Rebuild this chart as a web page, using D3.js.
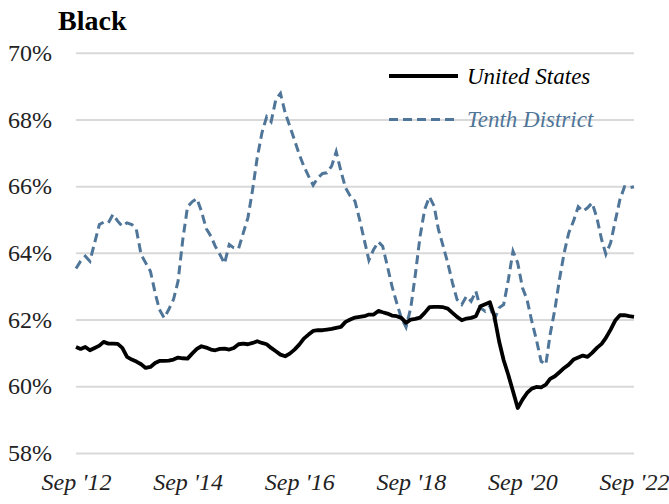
<!DOCTYPE html>
<html>
<head>
<meta charset="utf-8">
<script src="https://cdn.jsdelivr.net/npm/d3@7"></script>
<style>
  body { margin: 0; background: #fff; }
</style>
</head>
<body>
<svg id="chart" width="669" height="504"></svg>
<script>
// monthly values, Sep 2012 .. Sep 2022
var startMonth = new Date(2012, 8, 1);
var seriesNames = ['United States', 'Tenth District'];
var unitedStates = [
  61.18, 61.12, 61.18, 61.08, 61.15, 61.22, 61.33, 61.28, 61.28, 61.27,
  61.15, 60.88, 60.80, 60.74, 60.66, 60.55, 60.58, 60.70, 60.76, 60.76,
  60.77, 60.80, 60.86, 60.84, 60.83, 60.98, 61.12, 61.20, 61.16, 61.10,
  61.08, 61.12, 61.13, 61.10, 61.15, 61.26, 61.28, 61.26, 61.30, 61.35,
  61.30, 61.26, 61.15, 61.05, 60.95, 60.90, 60.98, 61.10, 61.25, 61.43,
  61.55, 61.66, 61.68, 61.68, 61.70, 61.72, 61.75, 61.78, 61.93, 62.00,
  62.06, 62.08, 62.10, 62.15, 62.15, 62.26, 62.22, 62.18, 62.12, 62.10,
  62.05, 61.90, 62.00, 62.02, 62.06, 62.20, 62.37, 62.38, 62.38, 62.37,
  62.33, 62.20, 62.08, 61.98, 62.03, 62.05, 62.10, 62.40, 62.46, 62.52,
  62.10, 61.35, 60.78, 60.33, 59.85, 59.35, 59.60, 59.80, 59.93, 59.98,
  59.97, 60.05, 60.22, 60.30, 60.42, 60.55, 60.65, 60.80, 60.86, 60.92,
  60.88, 61.00, 61.15, 61.27, 61.45, 61.70, 61.97, 62.13, 62.13, 62.10,
  62.08
];
var tenthDistrict = [
  63.53, 63.75, 63.90, 63.75, 64.30, 64.85, 64.92, 64.90, 65.15, 64.95,
  64.80, 64.90, 64.85, 64.70, 63.95, 63.70, 63.45, 62.80, 62.30, 62.05,
  62.30, 62.60, 63.15, 64.40, 65.38, 65.53, 65.63, 65.25, 64.73, 64.50,
  64.20, 63.95, 63.68, 64.25, 64.15, 64.13, 64.60, 65.05, 65.90, 66.85,
  67.60, 68.08, 67.93, 68.60, 68.78, 68.20, 67.80, 67.38, 66.95, 66.60,
  66.30, 66.03, 66.25, 66.38, 66.40, 66.60, 67.03, 66.45, 65.95, 65.70,
  65.55, 65.00, 64.38, 63.78, 64.10, 64.33, 64.20, 63.60, 63.00, 62.50,
  62.05, 61.77, 62.35, 63.35, 64.50, 65.30, 65.68, 65.40, 64.70, 64.20,
  63.70, 63.10, 62.60, 62.45, 62.70, 62.55, 62.85, 62.35, 62.25, 62.40,
  62.00, 62.35, 62.45, 63.20, 64.05, 63.70, 62.95, 62.60, 61.95, 61.40,
  60.75, 60.65, 61.55, 62.30, 63.20, 64.00, 64.60, 64.95, 65.38, 65.25,
  65.35, 65.50, 65.05, 64.40, 63.96, 64.30, 64.95, 65.60, 65.98, 65.95,
  65.98
];
var yTicks = [58, 60, 62, 64, 66, 68, 70];
var xTickYears = [2012, 2014, 2016, 2018, 2020, 2022];

var colors = ['#000000', '#4f7598'];
var serif = 'Tinos, "Liberation Serif", "Times New Roman", Times, "Noto Serif", "DejaVu Serif", FreeSerif, serif';

var svg = d3.select('#chart');
var margin = {left: 76, right: 35, top: 52.7, bottom: 51};
var width = 669 - margin.left - margin.right;
var height = 504 - margin.top - margin.bottom;

var g = svg.append('g').attr('transform', 'translate(' + margin.left + ',' + margin.top + ')');

var monthOf = function(i) { return d3.timeMonth.offset(startMonth, i); };

var x = d3.scaleTime()
    .domain([startMonth, monthOf(unitedStates.length - 1)])
    .range([0, width]);
var y = d3.scaleLinear().domain([58, 70]).range([height, 0]);

// gridlines + y labels
var yAxis = g.append('g')
    .call(d3.axisLeft(y).tickValues(yTicks).tickSize(-width).tickPadding(24)
      .tickFormat(function(d) { return d + '%'; }));
yAxis.attr('font-family', serif).attr('font-size', 24);
yAxis.select('.domain').remove();
yAxis.selectAll('.tick line').attr('stroke', '#d9d9d9').attr('stroke-width', 2);
yAxis.selectAll('.tick text').attr('fill', '#222');

// x labels
var fmtYear = d3.timeFormat("%y");
var xAxis = g.append('g')
    .attr('transform', 'translate(0,' + height + ')')
    .call(d3.axisBottom(x)
      .tickValues(xTickYears.map(function(yr) { return new Date(yr, 8, 1); }))
      .tickSize(0).tickPadding(20)
      .tickFormat(function(d) { return "Sep '" + fmtYear(d); }));
xAxis.attr('font-family', serif).attr('font-size', 24).attr('font-style', 'italic');
xAxis.select('.domain').remove();
xAxis.selectAll('.tick text').attr('fill', '#222');

var line = d3.line()
    .x(function(d, i) { return x(monthOf(i)); })
    .y(function(d) { return y(d); });

g.append('path')
    .datum(tenthDistrict)
    .attr('fill', 'none')
    .attr('stroke', colors[1])
    .attr('stroke-width', 3)
    .attr('stroke-dasharray', '9,5')
    .attr('d', line);

g.append('path')
    .datum(unitedStates)
    .attr('fill', 'none')
    .attr('stroke', colors[0])
    .attr('stroke-width', 3.8)
    .attr('stroke-linejoin', 'round')
    .attr('d', line);

// title
svg.append('text')
    .attr('x', 58).attr('y', 30)
    .attr('font-family', serif)
    .attr('font-size', 28)
    .attr('font-weight', 'bold')
    .attr('fill', '#000')
    .text('Black');

// legend
var legend = svg.append('g').attr('transform', 'translate(389,76)');
seriesNames.forEach(function(name, i) {
  var row = legend.append('g').attr('transform', 'translate(0,' + (i * 43.5) + ')');
  row.append('line')
      .attr('x1', 0).attr('x2', 69)
      .attr('stroke', colors[i])
      .attr('stroke-width', i === 0 ? 4 : 3)
      .attr('stroke-dasharray', i === 0 ? null : '9,5');
  row.append('text')
      .attr('x', 78).attr('y', 7.5)
      .attr('font-family', serif)
      .attr('font-size', 23)
      .attr('font-style', 'italic')
      .attr('fill', colors[i])
      .text(name);
});
</script>
</body>
</html>
